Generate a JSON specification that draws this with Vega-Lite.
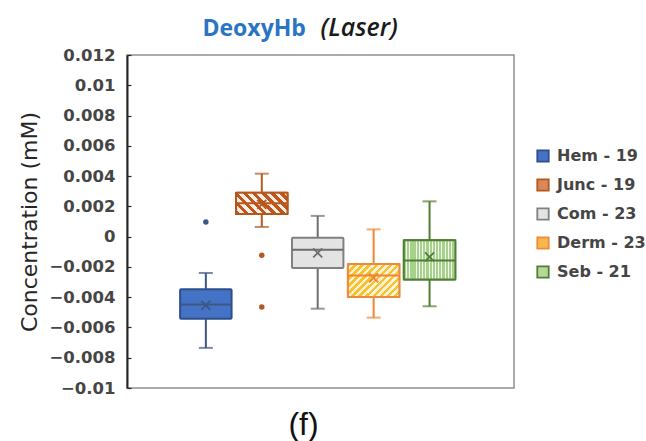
{
  "$schema": "https://vega.github.io/schema/vega-lite/v6.json",
  "width": 387,
  "height": 333,
  "autosize": "none",
  "padding": {"left": 127, "top": 55, "right": 132, "bottom": 53},
  "background": "white",
  "datasets": {
    "stats": [
      {"series": "Hem - 19", "lower": -0.00735, "q1": -0.00542, "median": -0.00449, "q3": -0.00348, "upper": -0.0024, "mean": -0.00454},
      {"series": "Junc - 19", "lower": 0.00064, "q1": 0.0015, "median": 0.0022, "q3": 0.0029, "upper": 0.00416, "mean": 0.00213},
      {"series": "Com - 23", "lower": -0.00476, "q1": -0.00207, "median": -0.00086, "q3": -0.00007, "upper": 0.00137, "mean": -0.00108},
      {"series": "Derm - 23", "lower": -0.00535, "q1": -0.00398, "median": -0.00256, "q3": -0.0018, "upper": 0.00048, "mean": -0.00273},
      {"series": "Seb - 21", "lower": -0.0046, "q1": -0.00284, "median": -0.00157, "q3": -0.00024, "upper": 0.00233, "mean": -0.00134}
    ],
    "outliers": [
      {"series": "Hem - 19", "value": 0.00097},
      {"series": "Junc - 19", "value": -0.00123},
      {"series": "Junc - 19", "value": -0.00465}
    ]
  },
  "data": {"name": "stats"},
  "encoding": {
    "x": {
      "field": "series", "type": "nominal",
      "scale": {"domain": ["Hem - 19", "Junc - 19", "Com - 23", "Derm - 23", "Seb - 21"], "paddingInner": 0.08, "paddingOuter": 1.0265, "align": 0.475},
      "axis": null
    }
  },
  "resolve": {"axis": {"x": "independent", "y": "independent"}},
  "layer": [
    {
      "mark": {"type": "rule", "strokeWidth": 2},
      "encoding": {
        "x": {
          "field": "series", "type": "nominal",
          "scale": {"domain": ["Hem - 19", "Junc - 19", "Com - 23", "Derm - 23", "Seb - 21"], "paddingInner": 0.08, "paddingOuter": 1.0265, "align": 0.475},
          "axis": {"orient": "bottom", "title": "(f)", "labels": false, "ticks": false, "domain": false,
                   "titleFont": "Liberation Sans", "titleFontSize": 32, "titleFontWeight": "normal", "titleColor": "#111111",
                   "titleX": 176, "titleY": 46, "titleAlign": "center", "titleBaseline": "alphabetic"}
        },
        "y": {
          "field": "lower", "type": "quantitative",
          "scale": {"domain": [-0.01, 0.012], "nice": false, "zero": false},
          "axis": {"orient": "left", "title": "Concentration (mM)",
                   "values": [-0.01, -0.008, -0.006, -0.004, -0.002, 0, 0.002, 0.004, 0.006, 0.008, 0.01, 0.012],
                   "format": "~g", "grid": false,
                   "domainColor": "#262626", "domainWidth": 2,
                   "tickColor": "#262626", "tickWidth": 1.2, "tickSize": -4,
                   "labelFont": "DejaVu Sans", "labelFontSize": 16.5, "labelFontWeight": "bold", "labelColor": "#454545", "labelPadding": 16,
                   "titleFont": "DejaVu Sans", "titleFontSize": 22, "titleFontWeight": "normal", "titleColor": "#262626",
                   "titleX": -98, "titleY": 166.5, "titleAngle": 270, "titleAlign": "center", "titleBaseline": "middle"}
        },
        "y2": {"field": "upper"},
        "color": {
          "field": "series", "type": "nominal",
          "scale": {"domain": ["Com - 23", "Derm - 23", "Hem - 19", "Junc - 19", "Seb - 21"], "range": ["#6e6e6e", "#ee8636", "#3d5688", "#b45a1e", "#507f34"]},
          "legend": null
        }
      }
    },
    {
      "mark": {"type": "tick", "size": 14, "thickness": 2},
      "encoding": {
        "x": {
          "field": "series", "type": "nominal",
          "scale": {"domain": ["Hem - 19", "Junc - 19", "Com - 23", "Derm - 23", "Seb - 21"], "paddingInner": 0.08, "paddingOuter": 1.0265, "align": 0.475},
          "axis": {"orient": "top", "title": "(Laser)", "labels": false, "ticks": false, "domain": false,
                   "titleFont": "Open Sans", "titleFontSize": 25, "titleFontStyle": "italic", "titleFontWeight": 600, "titleColor": "#1a1a1a",
                   "titleX": 193, "titleY": -20, "titleAlign": "left", "titleBaseline": "alphabetic"}
        },
        "y": {"field": "lower", "type": "quantitative", "axis": null},
        "color": {"field": "series", "type": "nominal", "legend": null}
      }
    },
    {
      "mark": {"type": "tick", "size": 14, "thickness": 2},
      "encoding": {
        "y": {
          "field": "upper", "type": "quantitative",
          "axis": {"orient": "right", "title": "DeoxyHb", "labels": false, "ticks": false, "domain": false, "grid": false,
                   "titleFont": "Open Sans", "titleFontSize": 23, "titleFontWeight": "bold", "titleColor": "#2a74c5",
                   "titleAngle": 0, "titleX": -312, "titleY": -20, "titleAlign": "left", "titleBaseline": "alphabetic"}
        },
        "color": {"field": "series", "type": "nominal", "legend": null}
      }
    },
    {
      "mark": {"type": "bar", "strokeWidth": 2, "cornerRadius": 1},
      "encoding": {
        "y": {"field": "q1", "type": "quantitative", "axis": null},
        "y2": {"field": "q3"},
        "fill": {
          "field": "series", "type": "nominal",
          "scale": {"domain": ["Hem - 19", "Junc - 19", "Com - 23", "Derm - 23", "Seb - 21"], "range": ["#4472c4", "#d9885a", "#e3e3e3", "#f6b84a", "#b3d898"]},
          "legend": {"title": null, "orient": "none", "legendX": 408, "legendY": 93, "padding": 0,
                     "symbolType": "square", "symbolSize": 130, "symbolStrokeWidth": 1.8,
                     "labelFont": "DejaVu Sans", "labelFontSize": 16, "labelFontWeight": "bold", "labelColor": "#454545", "labelOffset": 6, "rowPadding": 9}
        },
        "stroke": {
          "field": "series", "type": "nominal",
          "scale": {"domain": ["Hem - 19", "Junc - 19", "Com - 23", "Derm - 23", "Seb - 21"], "range": ["#2f4f8c", "#b5571c", "#808080", "#ee8a3c", "#4f7f33"]},
          "legend": {"title": null, "orient": "none", "legendX": 408, "legendY": 93, "padding": 0,
                     "symbolType": "square", "symbolSize": 130, "symbolStrokeWidth": 1.8,
                     "labelFont": "DejaVu Sans", "labelFontSize": 16, "labelFontWeight": "bold", "labelColor": "#454545", "labelOffset": 6, "rowPadding": 9}
        }
      }
    },
    {
      "transform": [{"filter": "datum.series === 'Junc - 19'"}],
      "mark": {
        "type": "bar", "strokeWidth": 2, "stroke": "#b5571c",
        "fill": {
          "gradient": "linear", "x1": 0, "y1": 1, "x2": 1.207, "y2": 0.499,
          "stops": [
            {"offset": 0, "color": "#c0561a"}, {"offset": 0.0625, "color": "#c0561a"},
            {"offset": 0.0625, "color": "#fbeee6"}, {"offset": 0.125, "color": "#fbeee6"},
            {"offset": 0.125, "color": "#c0561a"}, {"offset": 0.1875, "color": "#c0561a"},
            {"offset": 0.1875, "color": "#fbeee6"}, {"offset": 0.25, "color": "#fbeee6"},
            {"offset": 0.25, "color": "#c0561a"}, {"offset": 0.3125, "color": "#c0561a"},
            {"offset": 0.3125, "color": "#fbeee6"}, {"offset": 0.375, "color": "#fbeee6"},
            {"offset": 0.375, "color": "#c0561a"}, {"offset": 0.4375, "color": "#c0561a"},
            {"offset": 0.4375, "color": "#fbeee6"}, {"offset": 0.5, "color": "#fbeee6"},
            {"offset": 0.5, "color": "#c0561a"}, {"offset": 0.5625, "color": "#c0561a"},
            {"offset": 0.5625, "color": "#fbeee6"}, {"offset": 0.625, "color": "#fbeee6"},
            {"offset": 0.625, "color": "#c0561a"}, {"offset": 0.6875, "color": "#c0561a"},
            {"offset": 0.6875, "color": "#fbeee6"}, {"offset": 0.75, "color": "#fbeee6"},
            {"offset": 0.75, "color": "#c0561a"}, {"offset": 0.8125, "color": "#c0561a"},
            {"offset": 0.8125, "color": "#fbeee6"}, {"offset": 0.875, "color": "#fbeee6"},
            {"offset": 0.875, "color": "#c0561a"}, {"offset": 0.9375, "color": "#c0561a"},
            {"offset": 0.9375, "color": "#fbeee6"}, {"offset": 1, "color": "#fbeee6"}
          ]
        }
      },
      "encoding": {
        "y": {"field": "q1", "type": "quantitative", "axis": null},
        "y2": {"field": "q3"}
      }
    },
    {
      "transform": [{"filter": "datum.series === 'Derm - 23'"}],
      "mark": {
        "type": "bar", "strokeWidth": 2, "stroke": "#ee8a3c",
        "fill": {
          "gradient": "linear", "x1": 0, "y1": 0, "x2": 1.162, "y2": 0.751,
          "stops": [
            {"offset": 0, "color": "#f8c133"}, {"offset": 0.0417, "color": "#f8c133"},
            {"offset": 0.0417, "color": "#fef3d0"}, {"offset": 0.0833, "color": "#fef3d0"},
            {"offset": 0.0833, "color": "#f8c133"}, {"offset": 0.125, "color": "#f8c133"},
            {"offset": 0.125, "color": "#fef3d0"}, {"offset": 0.1667, "color": "#fef3d0"},
            {"offset": 0.1667, "color": "#f8c133"}, {"offset": 0.2083, "color": "#f8c133"},
            {"offset": 0.2083, "color": "#fef3d0"}, {"offset": 0.25, "color": "#fef3d0"},
            {"offset": 0.25, "color": "#f8c133"}, {"offset": 0.2917, "color": "#f8c133"},
            {"offset": 0.2917, "color": "#fef3d0"}, {"offset": 0.3333, "color": "#fef3d0"},
            {"offset": 0.3333, "color": "#f8c133"}, {"offset": 0.375, "color": "#f8c133"},
            {"offset": 0.375, "color": "#fef3d0"}, {"offset": 0.4167, "color": "#fef3d0"},
            {"offset": 0.4167, "color": "#f8c133"}, {"offset": 0.4583, "color": "#f8c133"},
            {"offset": 0.4583, "color": "#fef3d0"}, {"offset": 0.5, "color": "#fef3d0"},
            {"offset": 0.5, "color": "#f8c133"}, {"offset": 0.5417, "color": "#f8c133"},
            {"offset": 0.5417, "color": "#fef3d0"}, {"offset": 0.5833, "color": "#fef3d0"},
            {"offset": 0.5833, "color": "#f8c133"}, {"offset": 0.625, "color": "#f8c133"},
            {"offset": 0.625, "color": "#fef3d0"}, {"offset": 0.6667, "color": "#fef3d0"},
            {"offset": 0.6667, "color": "#f8c133"}, {"offset": 0.7083, "color": "#f8c133"},
            {"offset": 0.7083, "color": "#fef3d0"}, {"offset": 0.75, "color": "#fef3d0"},
            {"offset": 0.75, "color": "#f8c133"}, {"offset": 0.7917, "color": "#f8c133"},
            {"offset": 0.7917, "color": "#fef3d0"}, {"offset": 0.8333, "color": "#fef3d0"},
            {"offset": 0.8333, "color": "#f8c133"}, {"offset": 0.875, "color": "#f8c133"},
            {"offset": 0.875, "color": "#fef3d0"}, {"offset": 0.9167, "color": "#fef3d0"},
            {"offset": 0.9167, "color": "#f8c133"}, {"offset": 0.9583, "color": "#f8c133"},
            {"offset": 0.9583, "color": "#fef3d0"}, {"offset": 1, "color": "#fef3d0"}
          ]
        }
      },
      "encoding": {
        "y": {"field": "q1", "type": "quantitative", "axis": null},
        "y2": {"field": "q3"}
      }
    },
    {
      "transform": [{"filter": "datum.series === 'Seb - 21'"}],
      "mark": {
        "type": "bar", "strokeWidth": 2, "stroke": "#4f7f33",
        "fill": {
          "gradient": "linear", "x1": 0, "y1": 0, "x2": 1, "y2": 0,
          "stops": [
            {"offset": 0, "color": "#a9d18e"}, {"offset": 0.04375, "color": "#a9d18e"}, {"offset": 0.04375, "color": "#f2f9ec"},
            {"offset": 0.0625, "color": "#f2f9ec"}, {"offset": 0.0625, "color": "#a9d18e"}, {"offset": 0.10625, "color": "#a9d18e"}, {"offset": 0.10625, "color": "#f2f9ec"},
            {"offset": 0.125, "color": "#f2f9ec"}, {"offset": 0.125, "color": "#a9d18e"}, {"offset": 0.16875, "color": "#a9d18e"}, {"offset": 0.16875, "color": "#f2f9ec"},
            {"offset": 0.1875, "color": "#f2f9ec"}, {"offset": 0.1875, "color": "#a9d18e"}, {"offset": 0.23125, "color": "#a9d18e"}, {"offset": 0.23125, "color": "#f2f9ec"},
            {"offset": 0.25, "color": "#f2f9ec"}, {"offset": 0.25, "color": "#a9d18e"}, {"offset": 0.29375, "color": "#a9d18e"}, {"offset": 0.29375, "color": "#f2f9ec"},
            {"offset": 0.3125, "color": "#f2f9ec"}, {"offset": 0.3125, "color": "#a9d18e"}, {"offset": 0.35625, "color": "#a9d18e"}, {"offset": 0.35625, "color": "#f2f9ec"},
            {"offset": 0.375, "color": "#f2f9ec"}, {"offset": 0.375, "color": "#a9d18e"}, {"offset": 0.41875, "color": "#a9d18e"}, {"offset": 0.41875, "color": "#f2f9ec"},
            {"offset": 0.4375, "color": "#f2f9ec"}, {"offset": 0.4375, "color": "#a9d18e"}, {"offset": 0.48125, "color": "#a9d18e"}, {"offset": 0.48125, "color": "#f2f9ec"},
            {"offset": 0.5, "color": "#f2f9ec"}, {"offset": 0.5, "color": "#a9d18e"}, {"offset": 0.54375, "color": "#a9d18e"}, {"offset": 0.54375, "color": "#f2f9ec"},
            {"offset": 0.5625, "color": "#f2f9ec"}, {"offset": 0.5625, "color": "#a9d18e"}, {"offset": 0.60625, "color": "#a9d18e"}, {"offset": 0.60625, "color": "#f2f9ec"},
            {"offset": 0.625, "color": "#f2f9ec"}, {"offset": 0.625, "color": "#a9d18e"}, {"offset": 0.66875, "color": "#a9d18e"}, {"offset": 0.66875, "color": "#f2f9ec"},
            {"offset": 0.6875, "color": "#f2f9ec"}, {"offset": 0.6875, "color": "#a9d18e"}, {"offset": 0.73125, "color": "#a9d18e"}, {"offset": 0.73125, "color": "#f2f9ec"},
            {"offset": 0.75, "color": "#f2f9ec"}, {"offset": 0.75, "color": "#a9d18e"}, {"offset": 0.79375, "color": "#a9d18e"}, {"offset": 0.79375, "color": "#f2f9ec"},
            {"offset": 0.8125, "color": "#f2f9ec"}, {"offset": 0.8125, "color": "#a9d18e"}, {"offset": 0.85625, "color": "#a9d18e"}, {"offset": 0.85625, "color": "#f2f9ec"},
            {"offset": 0.875, "color": "#f2f9ec"}, {"offset": 0.875, "color": "#a9d18e"}, {"offset": 0.91875, "color": "#a9d18e"}, {"offset": 0.91875, "color": "#f2f9ec"},
            {"offset": 0.9375, "color": "#f2f9ec"}, {"offset": 0.9375, "color": "#a9d18e"}, {"offset": 0.98125, "color": "#a9d18e"}, {"offset": 0.98125, "color": "#f2f9ec"},
            {"offset": 1, "color": "#f2f9ec"}
          ]
        }
      },
      "encoding": {
        "y": {"field": "q1", "type": "quantitative", "axis": null},
        "y2": {"field": "q3"}
      }
    },
    {
      "mark": {"type": "bar", "filled": false, "strokeWidth": 2},
      "encoding": {
        "y": {"field": "median", "type": "quantitative", "axis": null},
        "y2": {"field": "median"},
        "color": {"field": "series", "type": "nominal", "legend": null}
      }
    },
    {
      "mark": {"type": "point", "shape": "M-1,-1L1,1M-1,1L1,-1", "filled": false, "size": 81, "strokeWidth": 1.8, "opacity": 1},
      "encoding": {
        "y": {"field": "mean", "type": "quantitative", "axis": null},
        "color": {"field": "series", "type": "nominal", "legend": null}
      }
    },
    {
      "data": {"name": "outliers"},
      "mark": {"type": "point", "shape": "circle", "filled": true, "size": 30, "opacity": 1},
      "encoding": {
        "y": {"field": "value", "type": "quantitative", "axis": null},
        "color": {"field": "series", "type": "nominal", "legend": null}
      }
    }
  ],
  "config": {
    "view": {"stroke": "#8f8f8f", "strokeWidth": 1.5},
    "axis": {"grid": false}
  }
}
